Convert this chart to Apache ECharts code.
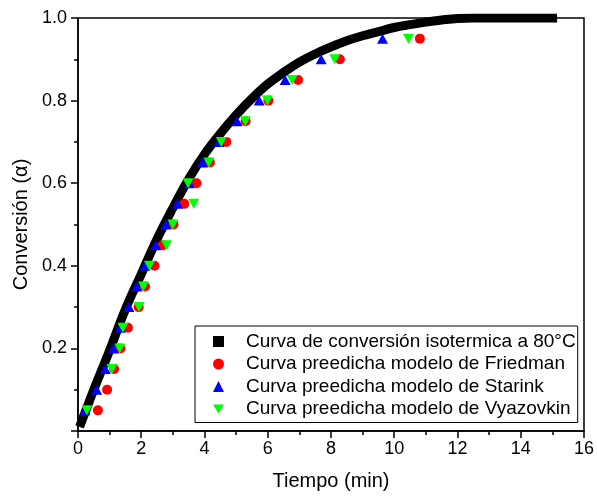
<!DOCTYPE html>
<html>
<head>
<meta charset="utf-8">
<script src="https://cdn.jsdelivr.net/npm/echarts@6/dist/echarts.min.js"></script>
<style>
html,body{margin:0;padding:0;background:#fff;}
#chart{width:597px;height:496px;}
</style>
</head>
<body>
<div id="chart"></div>
<script>
// Experimental isothermal conversion curve (80°C)
const curveT     = [0.05, 0.2, 0.5, 1.0, 1.5, 2.0, 2.5, 3.0, 3.5, 4.0, 4.5, 5.0, 5.5, 6.0, 6.5, 7.0, 7.5, 8.0, 8.5, 9.0, 9.5, 10.0, 10.5, 11.0, 11.5, 12.0, 12.5, 15.15];
const curveAlpha = [0.01, 0.04, 0.10, 0.195, 0.295, 0.38, 0.465, 0.54, 0.61, 0.67, 0.72, 0.765, 0.805, 0.84, 0.868, 0.893, 0.913, 0.93, 0.945, 0.957, 0.967, 0.977, 0.984, 0.99, 0.995, 0.999, 1.0, 1.0];

// Conversion levels of the predicted points
const alphaLevels = [0.05, 0.10, 0.15, 0.20, 0.25, 0.30, 0.35, 0.40, 0.45, 0.50, 0.55, 0.60, 0.65, 0.70, 0.75, 0.80, 0.85, 0.90, 0.95];
const friedmanT  = [0.63, 0.92, 1.14, 1.34, 1.58, 1.92, 2.12, 2.42, 2.68, 3.02, 3.36, 3.75, 4.17, 4.69, 5.30, 6.02, 6.96, 8.28, 10.81];
const starinkT   = [0.22, 0.59, 0.86, 1.12, 1.34, 1.61, 1.86, 2.12, 2.46, 2.78, 3.15, 3.52, 3.94, 4.46, 5.03, 5.73, 6.55, 7.69, 9.63];
const vyazovkinT = [0.28, null, 1.07, 1.32, 1.42, 1.93, 2.07, 2.26, 2.80, 3.00, 3.66, 3.48, 4.14, 4.53, 5.29, 5.99, 6.77, 8.12, 10.45];

const xTicks = {min: 0, max: 16, interval: 2};
const yTicks = {min: 0, max: 1.0, interval: 0.2};

const names = [
  'Curva de conversión isotermica a 80°C',
  'Curva preedicha modelo de Friedman',
  'Curva preedicha modelo de Starink',
  'Curva preedicha modelo de Vyazovkin'
];

function pairs(ts, as) {
  const out = [];
  for (let i = 0; i < ts.length; i++) if (ts[i] !== null) out.push([ts[i], as[i]]);
  return out;
}

const FONT = 'Arial, "Liberation Sans", sans-serif';
const chart = echarts.init(document.getElementById('chart'), null, {renderer: 'canvas'});
chart.setOption({
  animation: false,
  backgroundColor: '#fff',
  grid: {left: 78, right: 9, top: 18, bottom: 65, show: true, borderColor: '#000', borderWidth: 1.5, backgroundColor: 'transparent'},
  xAxis: {
    type: 'value', min: xTicks.min, max: xTicks.max, interval: xTicks.interval,
    name: 'Tiempo (min)', nameLocation: 'middle', nameGap: 40,
    nameTextStyle: {fontFamily: FONT, fontSize: 20, color: '#000'},
    axisLine: {show: true, onZero: false, lineStyle: {color: '#000', width: 1.5}},
    axisTick: {show: true, inside: false, length: 7, lineStyle: {color: '#000', width: 1.5}},
    minorTick: {show: true, splitNumber: 2, length: 4, lineStyle: {color: '#000', width: 1.5}},
    splitLine: {show: false},
    axisLabel: {fontFamily: FONT, fontSize: 18, color: '#000', margin: 9}
  },
  yAxis: {
    type: 'value', min: yTicks.min, max: yTicks.max, interval: yTicks.interval,
    name: 'Conversión (α)', nameLocation: 'middle', nameGap: 33,
    nameTextStyle: {fontFamily: FONT, fontSize: 20, color: '#000'},
    axisLine: {show: true, onZero: false, lineStyle: {color: '#000', width: 1.5}},
    axisTick: {show: true, inside: false, length: 7, lineStyle: {color: '#000', width: 1.5}},
    minorTick: {show: true, splitNumber: 2, length: 4, lineStyle: {color: '#000', width: 1.5}},
    splitLine: {show: false},
    axisLabel: {fontFamily: FONT, fontSize: 18, color: '#000', margin: 11, showMinLabel: false,
      formatter: v => v.toFixed(1)}
  },
  legend: {
    orient: 'vertical', left: 195, top: 326,
    padding: [6, 2, 4, 18],
    borderColor: '#000', borderWidth: 1, backgroundColor: '#fff',
    itemWidth: 11, itemHeight: 11, itemGap: 3.5,
    textStyle: {fontFamily: FONT, fontSize: 19, color: '#000', padding: [0, 0, 0, 17]},
    data: [
      {name: names[0], icon: 'rect'},
      {name: names[1], icon: 'circle'},
      {name: names[2], icon: 'triangle'},
      {name: names[3], icon: 'path://M0,0L12,0L6,10Z'}
    ]
  },
  series: [
    {
      name: names[0], type: 'line', data: pairs(curveT, curveAlpha),
      showSymbol: false, symbol: 'none', smooth: 0.4,
      itemStyle: {color: '#000'},
      lineStyle: {color: '#000', width: 9, cap: 'butt', join: 'round'},
      clip: true, z: 1
    },
    {
      name: names[1], type: 'scatter', data: pairs(friedmanT, alphaLevels),
      symbol: 'circle', symbolSize: 10, itemStyle: {color: '#ff0000', opacity: 1}, z: 2
    },
    {
      name: names[2], type: 'scatter', data: pairs(starinkT, alphaLevels),
      symbol: 'triangle', symbolSize: [11, 10], itemStyle: {color: '#0000ff', opacity: 1}, z: 3
    },
    {
      name: names[3], type: 'scatter', data: pairs(vyazovkinT, alphaLevels),
      symbol: 'path://M0,0L12,0L6,10Z', symbolSize: [11, 10], itemStyle: {color: '#00ff00', opacity: 1}, z: 4
    }
  ]
});
</script>
</body>
</html>
